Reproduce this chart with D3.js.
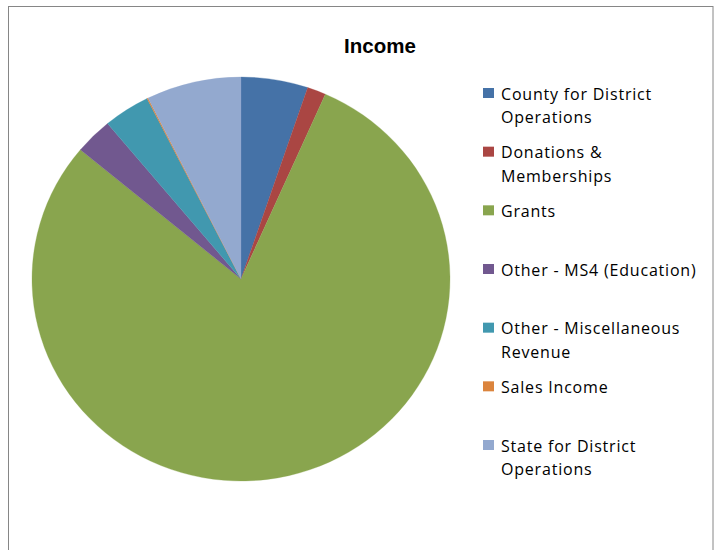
<!DOCTYPE html>
<html>
<head>
<meta charset="utf-8">
<script src="https://cdn.jsdelivr.net/npm/d3@7"></script>
<style>
  html, body { margin: 0; padding: 0; background: #fff; }
  svg { display: block; }
</style>
</head>
<body>
<svg id="chart" width="721" height="550"></svg>
<script>
const categories = [
  "County for District Operations",
  "Donations & Memberships",
  "Grants",
  "Other - MS4 (Education)",
  "Other - Miscellaneous Revenue",
  "Sales Income",
  "State for District Operations"
];
const values = [51700, 14400, 794000, 29200, 36000, 900, 73300];
const legendLines = [
  ["County for District", "Operations"],
  ["Donations &", "Memberships"],
  ["Grants"],
  ["Other - MS4 (Education)"],
  ["Other - Miscellaneous", "Revenue"],
  ["Sales Income"],
  ["State for District", "Operations"]
];
const colors = ["#4572A7", "#AA4643", "#89A54E", "#71588F", "#4198AF", "#DB843D", "#93A9CF"];
const title = "Income";

const svg = d3.select("#chart");

// chart frame
svg.append("rect")
  .attr("x", 8.5).attr("y", 6.5)
  .attr("width", 704.5).attr("height", 600)
  .attr("fill", "#fff")
  .attr("stroke", "#868686")
  .attr("stroke-width", 1);

// title
svg.append("text")
  .attr("x", 380).attr("y", 53)
  .attr("text-anchor", "middle")
  .attr("font-family", "Liberation Sans, Arial, sans-serif")
  .attr("font-weight", "bold")
  .attr("font-size", 20.5)
  .attr("fill", "#000")
  .text(title);

// pie
const rx = 209, ry = 202;
const color = d3.scaleOrdinal().domain(categories).range(colors);
const pie = d3.pie().sort(null).value(d => d.value);
const data = categories.map((c, i) => ({ name: c, value: values[i] }));
const arc = d3.arc().innerRadius(0).outerRadius(rx);

const g = svg.append("g")
  .attr("transform", `translate(241,279) scale(1,${ry / rx})`);

g.selectAll("path")
  .data(pie(data))
  .join("path")
  .attr("d", arc)
  .attr("fill", d => color(d.data.name))
  .attr("stroke", d => color(d.data.name))
  .attr("stroke-width", 0.3);

// legend
const legendY = d3.scaleLinear().domain([0, categories.length - 1]).range([99.5, 451.5]);
const lg = svg.append("g");
const items = lg.selectAll("g")
  .data(categories)
  .join("g")
  .attr("transform", (d, i) => `translate(0,${legendY(i)})`);

items.append("rect")
  .attr("x", 483).attr("y", -11.5)
  .attr("width", 11).attr("height", 10)
  .attr("fill", d => color(d));

items.append("text")
  .attr("x", 501).attr("y", 0)
  .attr("font-family", "Open Sans, Noto Sans, sans-serif")
  .attr("font-size", 16)
  .attr("letter-spacing", 0.8)
  .attr("fill", "#000")
  .selectAll("tspan")
  .data((d, i) => legendLines[i])
  .join("tspan")
  .attr("x", 501)
  .attr("dy", (d, j) => j === 0 ? 0 : 23.5)
  .text(d => d);
</script>
</body>
</html>
